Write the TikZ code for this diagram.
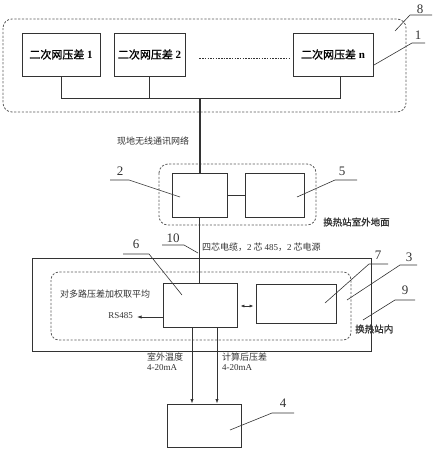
\documentclass[tikz,border=0pt]{standalone}
\usepackage{fontspec}
\setmainfont{Liberation Serif}
\newfontfamily\cjk{Noto Sans CJK SC}
\newfontfamily\cjkb{Noto Sans CJK SC}[FakeBold=1.2]
\usetikzlibrary{arrows.meta}
\colorlet{ink}{black!80}
\tikzset{
  blk/.style={draw=ink, line width=0.8pt, minimum width=#1, inner sep=0pt},
  dbox/.style={draw=ink!80, line width=0.8pt, dash pattern=on 2.2pt off 1.6pt, rounded corners=9pt},
  wire/.style={draw=ink, line width=0.7pt},
  lead/.style={draw=ink, line width=0.6pt},
  num/.style={font=\fontsize{13}{13}\selectfont, text=ink, inner sep=0pt},
  lbl/.style={font=\fontsize{9}{10}\selectfont\cjk, text=ink, inner sep=0pt, anchor=west},
  blbl/.style={font=\fontsize{9.5}{10}\selectfont\cjkb, text=ink, inner sep=0pt, anchor=west},
  tip/.style={-{Latex[length=4.5pt,width=3.2pt]}}
}
\begin{document}
\begin{tikzpicture}[x=1pt,y=-1pt]
\useasboundingbox (0,0) rectangle (436,450);
% group 8
\draw[dbox] (3,19) rectangle (406,112);
\node[blk=78pt, minimum height=43pt, font=\fontsize{11}{11}\selectfont] (b1) at (61,54.5) {{\cjkb 二次网压差} \textbf{1}};
\node[blk=71pt, minimum height=43pt, font=\fontsize{11}{11}\selectfont] (b2) at (149.5,54.5) {{\cjkb 二次网压差} \textbf{2}};
\node[blk=80pt, minimum height=43pt, font=\fontsize{11}{11}\selectfont] (bn) at (333,54.5) {{\cjkb 二次网压差} \textbf{n}};
\draw[ink, line width=0.7pt, dash pattern=on 1.5pt off 1.2pt] (b2.east |- 0,58) ++(14,0) -- ([xshift=-4pt]bn.west |- 0,58);
\coordinate (bus1) at (61,98);
\coordinate (busn) at (340,98);
\coordinate (busm) at (200,98);
\draw[wire] (b1.south) -- (bus1) -- (busn) -- (busn |- bn.south);
\draw[wire] (b2.south) -- (b2.south |- bus1);
% station outdoor
\draw[dbox] (159,164) rectangle (316,225);
\node[blk=55pt, minimum height=44pt] (s2) at (199.5,195) {};
\node[blk=59pt, minimum height=44pt] (s5) at (274.5,195) {};
\draw[ink, line width=2.2pt] (busm) -- (busm |- s2.north);
\draw[wire] (s2) -- (s5);
\node[lbl] (tw) at (117,141) {现地无线通讯网络};
\node[blbl] (tg) at (323,222) {换热站室外地面};
% indoor
\draw[draw=ink, line width=0.8pt] (32,258) rectangle (371,351);
\draw[dbox, rounded corners=8pt] (51,272) rectangle (351,340);
\node[blk=74pt, minimum height=44pt] (s6) at (200,305) {};
\node[blk=80pt, minimum height=39pt] (s7) at (296,303.5) {};
\draw[wire] (s2.south -| 199,0) -- (s6.north -| 199,0);
\draw[wire, {Latex[length=4pt,width=3pt]}-{Latex[length=4pt,width=3pt]}] (s6.east |- 0,306) ++(3,0) -- ([xshift=-2pt]s7.west |- 0,306);
\coordinate (rs) at (137,317);
\draw[wire, tip] (s6.west |- rs) -- (rs);
\node[font=\fontsize{9}{9}\selectfont, text=ink, inner sep=0pt, anchor=east] (rst) at (133,316) {RS485};
\node[lbl] (tc) at (202,247) {四芯电缆，\textrm{2} 芯 \textrm{485}，\textrm{2} 芯电源};
\node[lbl] (tavg) at (60,294) {对多路压差加权取平均};
\node[blbl] (tin) at (355,329) {换热站内};
% box 4
\node[blk=74pt, minimum height=43pt] (s4) at (204,425.5) {};
\draw[wire, tip] (s6.south -| 192,0) -- (s4.north -| 192,0);
\draw[wire, tip] (s6.south -| 217,0) -- (s4.north -| 217,0);
\node[lbl] (tt1) at (147,357) {室外温度};
\node[font=\fontsize{9}{9}\selectfont, text=ink, inner sep=0pt, anchor=west] (tt2) at (147,368) {4-20mA};
\node[lbl] (tp1) at (222,357) {计算后压差};
\node[font=\fontsize{9}{9}\selectfont, text=ink, inner sep=0pt, anchor=west] (tp2) at (222,368) {4-20mA};
% numbers with leaders
\node[num] (n8) at (420,9) {8};
\draw[lead] (432,15) -- (410,15) -- (395,31);
\node[num] (n1) at (418,35) {1};
\draw[lead] (425,43) -- (412,43) -- (374,65);
\node[num] (n2) at (120,171) {2};
\draw[lead] (110,180) -- (129,180) -- (180,197);
\node[num] (n5) at (342,171) {5};
\draw[lead] (357,180) -- (335,180) -- (297,197);
\node[num] (n10) at (173,238) {10};
\draw[lead] (162,245) -- (184,245) -- (198,253);
\node[num] (n6) at (136,244) {6};
\draw[lead] (123,254) -- (149,254) -- (182,295);
\node[num] (n7) at (378,255) {7};
\draw[lead] (388,264) -- (369,264) -- (325,303);
\node[num] (n3) at (409,257) {3};
\draw[lead] (417,265) -- (400,265) -- (347,300);
\node[num] (n9) at (405,290) {9};
\draw[lead] (415,300) -- (395,300) -- (363,320);
\node[num] (n4) at (283,403) {4};
\draw[lead] (294,413) -- (272,413) -- (230,430);
\end{tikzpicture}
\end{document}
